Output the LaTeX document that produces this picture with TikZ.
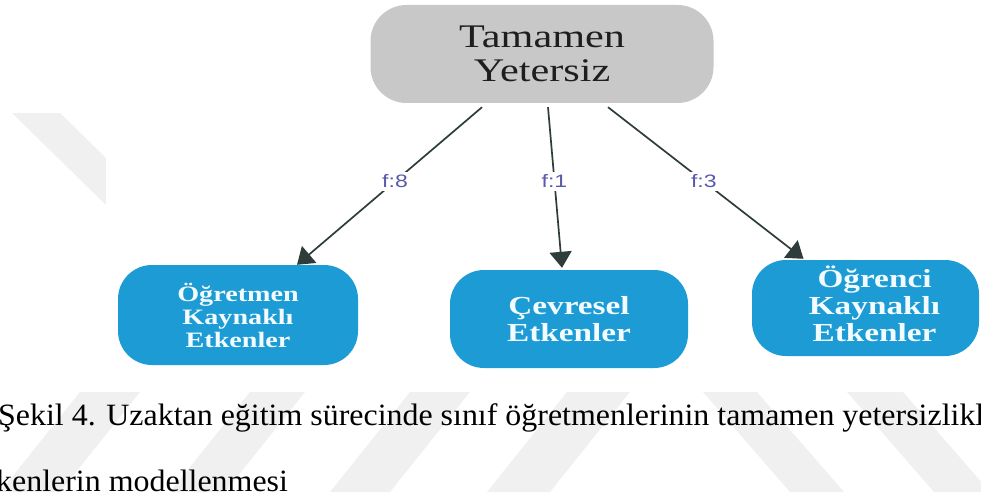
\documentclass[tikz,border=0pt]{standalone}
\usepackage{fontspec}
\setmainfont{Liberation Serif}
\newfontfamily\capfont[FakeStretch=1.03]{Liberation Serif}
\newfontfamily\boxfont[FakeStretch=1.28]{Liberation Serif}
\newfontfamily\labfont[FakeStretch=1.28]{Liberation Sans}
\usetikzlibrary{arrows.meta}
\definecolor{topgrey}{HTML}{C8C8C8}
\definecolor{toptext}{HTML}{1E1E1E}
\definecolor{leafblue}{HTML}{1C9BD4}
\definecolor{leaftext}{HTML}{F2FBFF}
\definecolor{linkcol}{HTML}{2E3C3C}
\definecolor{labcol}{HTML}{5A5AAA}
\definecolor{wmgrey}{HTML}{F0F0F0}
\tikzset{
  topbox/.style={rectangle, rounded corners=36pt, fill=topgrey, minimum width=343pt,
    minimum height=98pt, inner sep=0pt, align=center, text=toptext,
    font={\boxfont\fontsize{33}{34}\selectfont}},
  leafbox/.style={rectangle, rounded corners=34pt, fill=leafblue, inner sep=0pt,
    align=center, text=leaftext},
  link/.style={draw=linkcol, line width=1.7pt, -{Triangle[width=22pt,length=16pt]}},
  flabel/.style={fill=white, inner sep=3pt, text=labcol,
    font={\labfont\fontsize{18}{18}\selectfont}},
  band/.style={fill=wmgrey, draw=none},
  captext/.style={anchor=base west, inner sep=0pt, text=black,
    font={\capfont\fontsize{31}{32}\selectfont}}
}
\begin{document}
\begin{tikzpicture}[x=1pt,y=-1pt]
\useasboundingbox (0,0) rectangle (981,492);
\clip (0,0) rectangle (981,492);
\fill[white] (0,0) rectangle (981,492);

% page watermark bands
\fill[band] (12,113) -- (60,113) -- (244,293) -- (196,293) -- cycle;
\fill[band] (80,392) -- (140,392) -- (60,492) -- (0,492) -- cycle;
\fill[band] (250,392) -- (305,392) -- (225,492) -- (170,492) -- cycle;
\fill[band] (410,392) -- (470,392) -- (390,492) -- (330,492) -- cycle;
\fill[band] (567,392) -- (630,392) -- (550,492) -- (487,492) -- cycle;
\fill[band] (703,392) -- (757,392) -- (844,492) -- (790,492) -- cycle;
\fill[band] (847,392) -- (903,392) -- (990,492) -- (934,492) -- cycle;

% opaque figure area
\fill[white] (106,0) rectangle (981,373);

% boxes
\node[topbox] (top) at (542,54) {Tamamen\\Yetersiz};
\node[leafbox, minimum width=240pt, minimum height=100pt,
      font={\boxfont\bfseries\fontsize{22}{23}\selectfont}]
      (teacher) at (238,315) {Öğretmen\\Kaynaklı\\Etkenler};
\node[leafbox, minimum width=238pt, minimum height=98pt,
      font={\boxfont\bfseries\fontsize{26}{27}\selectfont}]
      (env) at (569,319) {Çevresel\\Etkenler};
\node[leafbox, minimum width=227pt, minimum height=96pt,
      label={[name=studenttext, xshift=9pt, yshift=4pt, align=center, text=leaftext,
              font={\boxfont\bfseries\fontsize{26}{27}\selectfont}]center:Öğrenci\\Kaynaklı\\Etkenler}]
      (student) at (865.5,308) {};

% links with frequencies
\draw[link] ([shift={(-60,4)}]top.south) -- node[flabel, pos=0.47] (f8) {f:8}
      ([shift={(59,0)}]teacher.north);
\draw[link] ([shift={(6,4)}]top.south) -- node[flabel, pos=0.46] (f1) {f:1}
      ([shift={(-7,-2)}]env.north);
\draw[link] ([shift={(66,4)}]top.south) -- node[flabel, pos=0.49] (f3) {f:3}
      ([shift={(-62,-1)}]student.north);

% caption
\node[captext] (cap1) at (-2,425) {Şekil 4. Uzaktan eğitim sürecinde sınıf öğretmenlerinin tamamen yetersizlikl};
\node[captext] (cap2) at (-4,491) {kenlerin modellenmesi};
\end{tikzpicture}
\end{document}
